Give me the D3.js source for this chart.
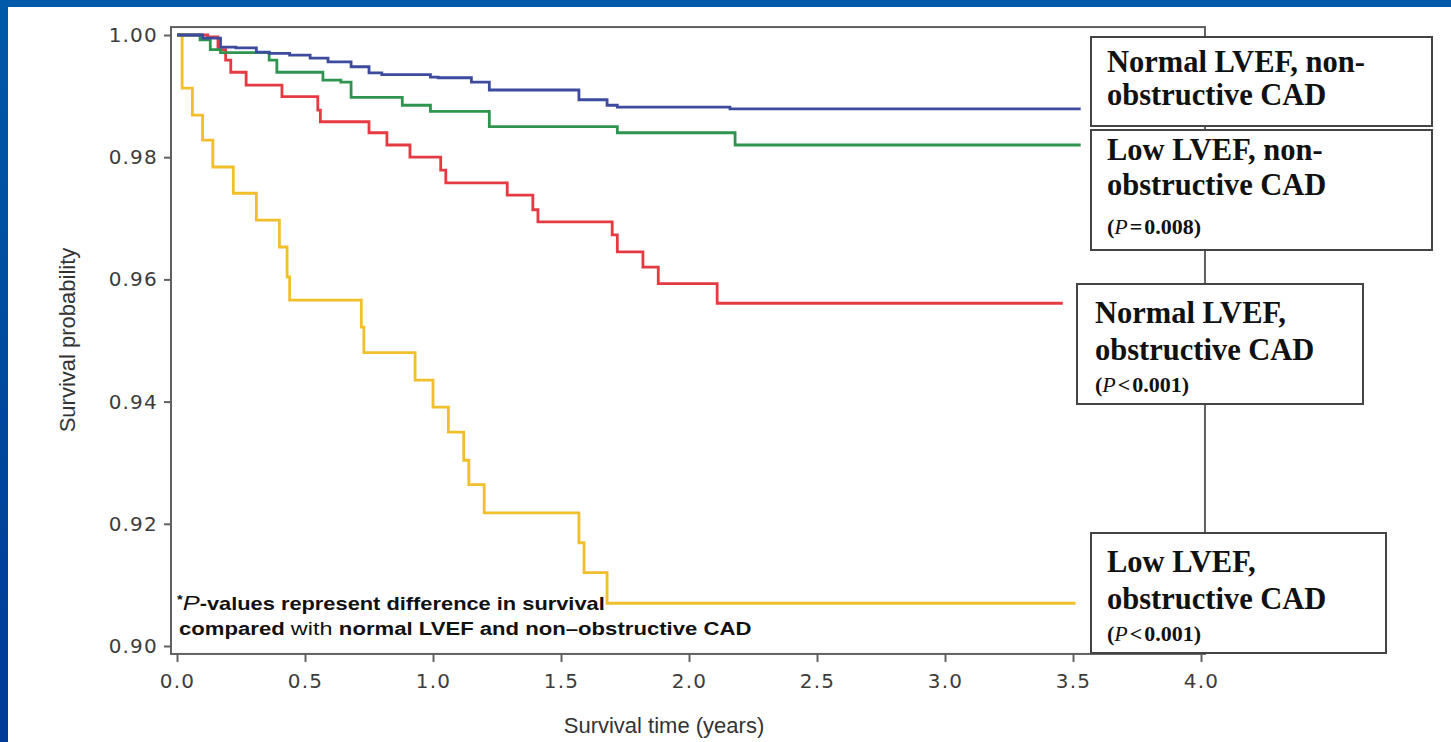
<!DOCTYPE html>
<html>
<head>
<meta charset="utf-8">
<script src="https://cdn.jsdelivr.net/npm/d3@7"></script>
<style>
  body { margin: 0; background: #fff; }
  svg { display: block; }
</style>
</head>
<body>
<div class="chart"></div>
<script>
// tick values
let xTicks = [0, 0.5, 1.0, 1.5, 2.0, 2.5, 3.0, 3.5, 4.0];
let yTicks = [0.90, 0.92, 0.94, 0.96, 0.98, 1.00];

// Kaplan-Meier steps (time in years, survival)
let blueTime = [0, 0.10, 0.17, 0.23, 0.31, 0.36, 0.44, 0.52, 0.59, 0.68, 0.75, 0.80, 0.99, 1.02, 1.15, 1.22, 1.57, 1.68, 1.72, 2.16, 3.53];
let blueSurv = [1.0, 0.9995, 0.9980, 0.9979, 0.9972, 0.9970, 0.9967, 0.9962, 0.9956, 0.9948, 0.9938, 0.9935, 0.9931, 0.9930, 0.9923, 0.9910, 0.9894, 0.9885, 0.9882, 0.9879, 0.9879];

let greenTime = [0, 0.09, 0.13, 0.17, 0.36, 0.39, 0.57, 0.64, 0.68, 0.88, 0.99, 1.22, 1.72, 2.18, 3.53];
let greenSurv = [1.0, 0.9992, 0.9976, 0.9971, 0.9959, 0.9939, 0.9926, 0.9923, 0.9898, 0.9885, 0.9875, 0.9850, 0.9840, 0.9820, 0.9820];

let redTime = [0, 0.12, 0.16, 0.19, 0.21, 0.27, 0.41, 0.55, 0.56, 0.75, 0.82, 0.91, 1.03, 1.05, 1.29, 1.39, 1.41, 1.70, 1.72, 1.82, 1.88, 2.11, 3.46];
let redSurv = [1.0, 0.9997, 0.9976, 0.9959, 0.9939, 0.9918, 0.9899, 0.9877, 0.9858, 0.9840, 0.9820, 0.9800, 0.9779, 0.9758, 0.9738, 0.9714, 0.9694, 0.9673, 0.9645, 0.9620, 0.9593, 0.9561, 0.9561];

let yellowTime = [0, 0.02, 0.06, 0.10, 0.14, 0.22, 0.31, 0.40, 0.43, 0.44, 0.72, 0.73, 0.93, 1.00, 1.06, 1.12, 1.14, 1.20, 1.57, 1.59, 1.68, 3.51];
let yellowSurv = [1.0, 0.9913, 0.9869, 0.9828, 0.9784, 0.9741, 0.9697, 0.9653, 0.9604, 0.9566, 0.9522, 0.9480, 0.9435, 0.9391, 0.9350, 0.9304, 0.9264, 0.9218, 0.9169, 0.9120, 0.9070, 0.9070];

// legend texts
let legendLines = [
  ["Normal LVEF, non-", "obstructive CAD"],
  ["Low LVEF, non-", "obstructive CAD"],
  ["Normal LVEF,", "obstructive CAD"],
  ["Low LVEF,", "obstructive CAD"]
];
let legendP = [null, ["=", "0.008)"], ["<", "0.001)"], ["<", "0.001)"]];

let svgWidth = 1451;
let svgHeight = 742;

let svg = d3.select(".chart")
  .append("svg")
  .attr("width", svgWidth)
  .attr("height", svgHeight);

// slide background: blue edge on left and top
let grad = svg.append("defs").append("linearGradient")
  .attr("id", "bg").attr("x1", 0).attr("y1", 0).attr("x2", 0).attr("y2", 1);
grad.append("stop").attr("offset", "0%").attr("stop-color", "#0059a9");
grad.append("stop").attr("offset", "100%").attr("stop-color", "#003b97");
svg.append("rect").attr("width", svgWidth).attr("height", svgHeight).attr("fill", "url(#bg)");
svg.append("rect").attr("x", 8).attr("y", 7).attr("width", svgWidth - 8).attr("height", svgHeight - 7).attr("fill", "#fff");

// scales
let x = d3.scaleLinear().domain([0, 4]).range([177, 1201]);
let y = d3.scaleLinear().domain([0.90, 1.00]).range([646, 35]);

// plot frame
svg.append("rect")
  .attr("x", x(-0.0235)).attr("y", y(1.0013))
  .attr("width", x(4.0155) - x(-0.0235))
  .attr("height", y(0.8987) - y(1.0013))
  .attr("fill", "none")
  .attr("stroke", "#606060")
  .attr("stroke-width", 2);

// axes
let xAxis = svg.append("g")
  .attr("transform", `translate(0, ${y(0.8987)})`)
  .call(d3.axisBottom(x).tickValues(xTicks).tickFormat(d3.format(".1f")).tickSize(8).tickSizeOuter(0));
let yAxis = svg.append("g")
  .attr("transform", `translate(${x(-0.0235)}, 0)`)
  .call(d3.axisLeft(y).tickValues(yTicks).tickFormat(d3.format(".2f")).tickSize(7).tickSizeOuter(0));

[xAxis, yAxis].forEach(function(ax) {
  ax.select(".domain").remove();
  ax.selectAll("line").attr("stroke", "#606060").attr("stroke-width", 2);
  ax.selectAll("text")
    .attr("fill", "#3c3c3c")
    .style("font-family", "DejaVu Sans, Verdana, sans-serif")
    .style("font-size", "20px")
    .style("letter-spacing", "1.2px");
});
xAxis.selectAll("text").attr("y", 20);
yAxis.selectAll("text").attr("x", -13);

// axis titles
svg.append("text")
  .attr("x", 664).attr("y", 733)
  .attr("text-anchor", "middle")
  .attr("fill", "#333")
  .style("font-family", "Liberation Sans, Arial, sans-serif")
  .style("font-size", "22px")
  .text("Survival time (years)");

svg.append("text")
  .attr("transform", "translate(75, 340) rotate(-90)")
  .attr("text-anchor", "middle")
  .attr("fill", "#333")
  .style("font-family", "Liberation Sans, Arial, sans-serif")
  .style("font-size", "22px")
  .text("Survival probability");

// survival curves
let curves = [
  { t: yellowTime, s: yellowSurv, color: "#f1be2c" },
  { t: redTime, s: redSurv, color: "#e63a42" },
  { t: greenTime, s: greenSurv, color: "#2e9450" },
  { t: blueTime, s: blueSurv, color: "#3d4b9e" }
];

let stepLine = d3.line()
  .x(d => x(d[0]))
  .y(d => y(d[1]))
  .curve(d3.curveStepAfter);

curves.forEach(function(c) {
  svg.append("path")
    .datum(d3.zip(c.t, c.s))
    .attr("d", stepLine)
    .attr("fill", "none")
    .attr("stroke", c.color)
    .attr("stroke-width", 2.8);
});

// footnote
let note1 = svg.append("text")
  .attr("x", 177).attr("y", 610)
  .attr("fill", "#111")
  .style("font-family", "Liberation Sans, Arial, sans-serif")
  .style("font-size", "18px")
  .style("font-weight", "bold");
note1.append("tspan").attr("dy", -6).style("font-size", "12px").text("*");
note1.append("tspan").attr("dy", 6).style("font-style", "italic").style("font-weight", "normal").style("font-size", "21px").text("P");
note1.append("tspan").text("-values represent difference in survival");

let note2 = svg.append("text")
  .attr("x", 179).attr("y", 635)
  .attr("fill", "#111")
  .style("font-family", "Liberation Sans, Arial, sans-serif")
  .style("font-size", "18px")
  .style("font-weight", "bold");
note2.append("tspan").text("compared ");
note2.append("tspan").style("font-weight", "normal").style("font-size", "19px").text("with ");
note2.append("tspan").text(" normal LVEF and non\u2013obstructive CAD");

// squeeze the footnote lines to the width they take in the picture
function fitWidth(sel, x0, w) {
  let cur = sel.node().getComputedTextLength();
  let k = w / cur;
  sel.attr("transform", `translate(${x0 * (1 - k)}, 0) scale(${k}, 1)`);
}
fitWidth(note1, 177, 428);
fitWidth(note2, 179, 573);

// legend boxes
let boxes = [
  { x: 1091, y: 37, w: 341, h: 89, tx: 1107, base: [72, 105], pBase: null },
  { x: 1091, y: 130, w: 341, h: 120, tx: 1107, base: [160, 195], pBase: 234 },
  { x: 1077, y: 284, w: 286, h: 120, tx: 1095, base: [323, 360], pBase: 392 },
  { x: 1091, y: 533, w: 295, h: 120, tx: 1107, base: [572, 609], pBase: 641 }
];

boxes.forEach(function(b, i) {
  svg.append("rect")
    .attr("x", b.x).attr("y", b.y)
    .attr("width", b.w).attr("height", b.h)
    .attr("fill", "#fff")
    .attr("stroke", "#444")
    .attr("stroke-width", 2);

  legendLines[i].forEach(function(line, j) {
    svg.append("text")
      .attr("x", b.tx).attr("y", b.base[j])
      .attr("fill", "#111")
      .style("font-family", "Liberation Serif, Times New Roman, serif")
      .style("font-size", "30.5px")
      .style("font-weight", "bold")
      .text(line);
  });

  if (legendP[i]) {
    let p = svg.append("text")
      .attr("x", b.tx).attr("y", b.pBase)
      .attr("fill", "#111")
      .style("font-family", "Liberation Serif, Times New Roman, serif")
      .style("font-size", "22px")
      .style("font-weight", "bold");
    p.append("tspan").text("(");
    p.append("tspan").style("font-style", "italic").style("font-weight", "normal").text("P");
    p.append("tspan").attr("dx", 2).text(legendP[i][0]);
    p.append("tspan").attr("dx", 2).text(legendP[i][1]);
  }
});
</script>
</body>
</html>
